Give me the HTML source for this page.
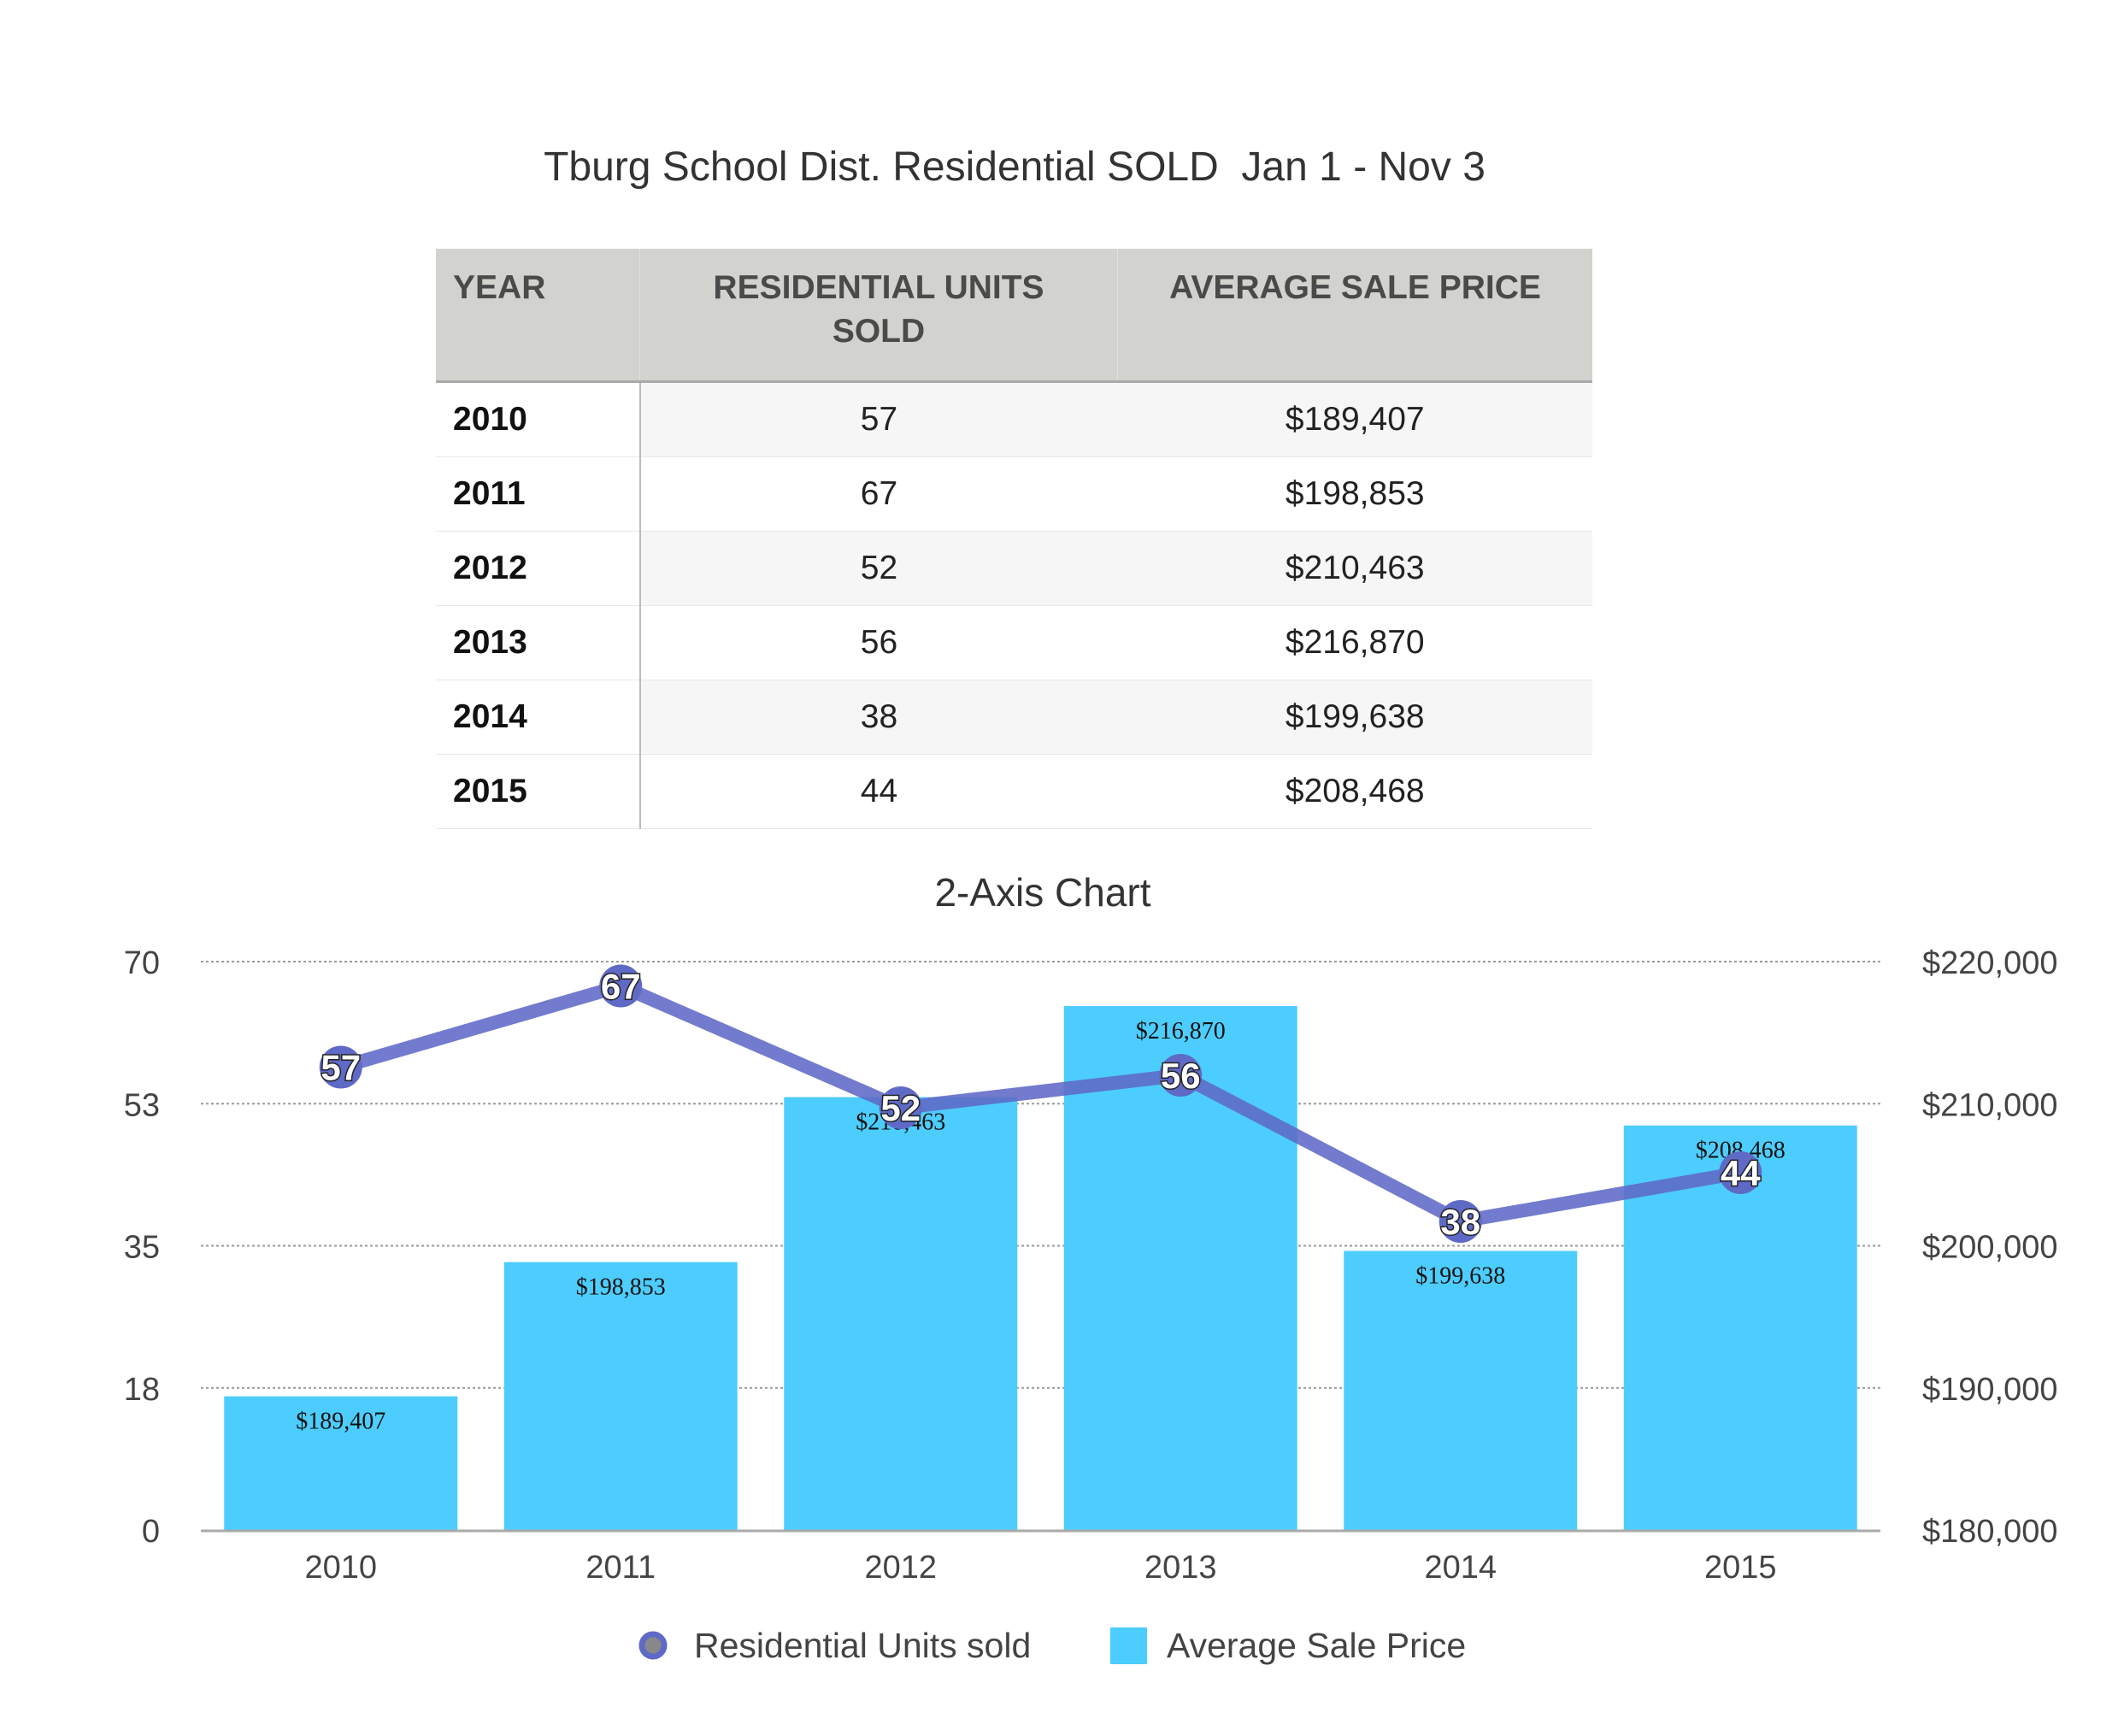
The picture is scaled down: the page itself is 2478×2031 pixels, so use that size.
<!DOCTYPE html>
<html><head><meta charset="utf-8">
<style>
body{margin:0;width:2478px;height:2031px;background:#fff;position:relative;overflow:hidden;font-family:"Liberation Sans",sans-serif;}
#title{position:absolute;left:0;width:2374px;top:168px;text-align:center;font-size:48px;color:#333;}
table{position:absolute;left:510px;top:291px;width:1353px;border-collapse:collapse;font-size:39px;}
th{background:#d2d2ce;color:#4a4a4a;font-weight:bold;height:133px;vertical-align:top;padding-top:20px;line-height:51px;border-bottom:3px solid #a8a8a8;}
th+th{border-left:1px solid #e0e0dc;}
td{height:84px;border-bottom:1px solid #e8e8e8;color:#222;text-align:center;}
td:first-child{text-align:left;padding-left:20px;font-weight:bold;color:#111;border-right:2px solid #bbb;background:#fff;}
tr:nth-child(even) td{background:#f6f6f6;}
tr:nth-child(even) td:first-child{background:#fff;}
svg{position:absolute;left:0;top:0;}
</style></head><body>
<div id="title">Tburg School Dist. Residential SOLD&nbsp; Jan 1 - Nov 3</div>
<table>
<tr><th style="width:217px;text-align:left;padding-left:20px">YEAR</th><th style="width:556px">RESIDENTIAL UNITS<br>SOLD</th><th>AVERAGE SALE PRICE</th></tr>
<tr><td>2010</td><td>57</td><td>$189,407</td></tr>
<tr><td>2011</td><td>67</td><td>$198,853</td></tr>
<tr><td>2012</td><td>52</td><td>$210,463</td></tr>
<tr><td>2013</td><td>56</td><td>$216,870</td></tr>
<tr><td>2014</td><td>38</td><td>$199,638</td></tr>
<tr><td>2015</td><td>44</td><td>$208,468</td></tr>
</table>
<svg id="chart" width="2478" height="2031"></svg>
<script>
const categories=["2010","2011","2012","2013","2014","2015"];
const units=[57,67,52,56,38,44];
const prices=[189407,198853,210463,216870,199638,208468];
const leftTicks=[0,18,35,53,70];
const rightTicks=[180000,190000,200000,210000,220000];
const NS="http://www.w3.org/2000/svg";
const svg=document.getElementById('chart');
const X0=235,X1=2200,Y0=1790,Y1=1125;
const bw=(X1-X0)/categories.length;
const xc=i=>X0+bw*(i+0.5);
const yL=v=>Y0-(v-0)/(70-0)*(Y0-Y1);
const yR=v=>Y0-(v-180000)/(220000-180000)*(Y0-Y1);
function mk(t,a,txt){const e=document.createElementNS(NS,t);for(const k in a)e.setAttribute(k,a[k]);if(txt!=null)e.textContent=txt;svg.appendChild(e);return e;}
let e=mk('text',{x:1220,y:1060,'text-anchor':'middle','font-size':46,fill:'#333','font-family':'Liberation Sans'},'2-Axis Chart');


leftTicks.forEach((t,i)=>{const y=Y0-i*(Y0-Y1)/4;
 if(i>0){const g=mk('line',{x1:X0,x2:X1,y1:y,y2:y,stroke:'#999','stroke-width':2,'stroke-dasharray':'3,3'});
 
 }
 const l=mk('text',{x:187,y:y+14,'text-anchor':'end','font-size':38,fill:'#444','font-family':'Liberation Sans'},t);
 
 });
rightTicks.forEach(t=>{const r=mk('text',{x:2249,y:yR(t)+14,'font-size':38,fill:'#444','font-family':'Liberation Sans'},'$'+t.toLocaleString('en-US'));
 
 });
categories.forEach((c,i)=>{const bx=xc(i)-136.5;
 const b=mk('rect',{x:bx,y:yR(prices[i]),width:273,height:Y0-yR(prices[i]),fill:'#4dcdfd'});
 
 
 const l=mk('text',{x:xc(i),y:yR(prices[i])+38,'text-anchor':'middle','font-size':28,fill:'#111','font-family':'Liberation Serif'},'$'+prices[i].toLocaleString('en-US'));
 
 
 const xl=mk('text',{x:xc(i),y:1846,'text-anchor':'middle','font-size':38,fill:'#444','font-family':'Liberation Sans'},c);
 
 });
const ax=mk('line',{x1:X0,x2:X1,y1:Y0+1,y2:Y0+1,stroke:'#aaa','stroke-width':3});


const pl=mk('polyline',{points:units.map((u,i)=>xc(i)+','+yL(u)).join(' '),fill:'none',stroke:'#5f69c6','stroke-opacity':0.88,'stroke-width':16,'stroke-linejoin':'round'});


units.forEach((u,i)=>{const c=mk('circle',{cx:xc(i),cy:yL(u),r:25,fill:'#5f69c6'});
 
 
 const t=mk('text',{x:xc(i),y:yL(u)+15,'text-anchor':'middle','font-size':42,'font-weight':'bold',fill:'#fff',stroke:'#222','stroke-width':3,'paint-order':'stroke','font-family':'Liberation Sans'},u);
 
 });
const lm=mk('circle',{cx:764,cy:1925,r:13,fill:'#888',stroke:'#5f69c6','stroke-width':7});


const lt=mk('text',{x:812,y:1939,'font-size':41,fill:'#444','font-family':'Liberation Sans'},'Residential Units sold');


const ls=mk('rect',{x:1299,y:1904,width:43,height:43,fill:'#4dcdfd'});


const lt2=mk('text',{x:1365,y:1939,'font-size':41,fill:'#444','font-family':'Liberation Sans'},'Average Sale Price');


</script>
</body></html>
